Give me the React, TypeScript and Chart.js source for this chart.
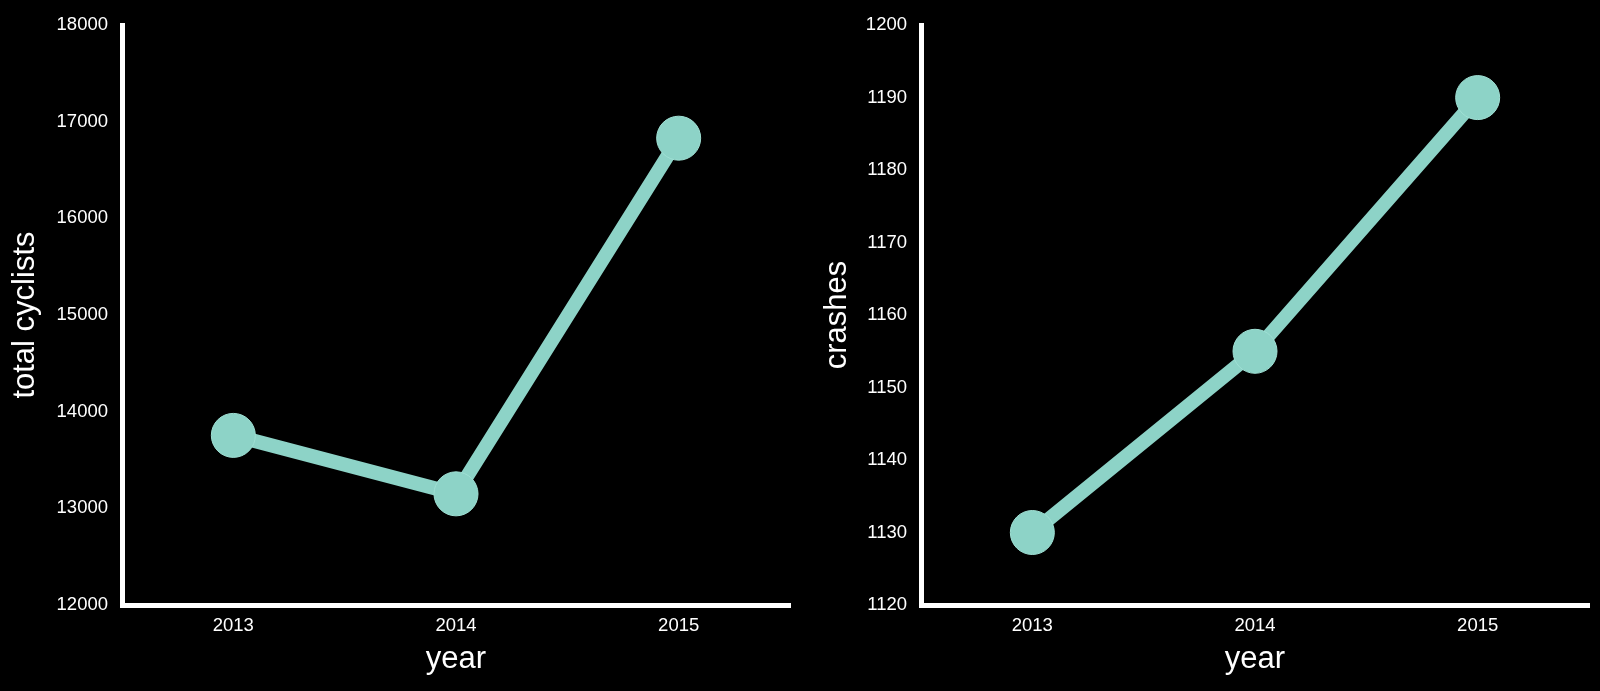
import React, { useEffect, useRef } from "react";
import { Chart, registerables } from "chart.js";

Chart.register(...registerables);

const years = ["2013", "2014", "2015"];
const totalCyclists = [13755, 13150, 16830];
const crashes = [1130, 1155, 1190];

const cyclistTicks = { min: 12000, max: 18000, step: 1000 };
const crashTicks = { min: 1120, max: 1200, step: 10 };

const FONT = "'Liberation Sans', Arial, Helvetica, sans-serif";
const LINE_COLOR = "#8dd3c7";

function makeConfig(values: number[], yLabel: string, range: { min: number; max: number; step: number }, titlePad: number) {
  return {
    type: "line" as const,
    data: {
      labels: years,
      datasets: [
        {
          data: values,
          borderColor: LINE_COLOR,
          backgroundColor: LINE_COLOR,
          borderWidth: 14,
          pointRadius: 22,
          pointBorderWidth: 1,
          pointBorderColor: "#9fe0d4",
          pointBackgroundColor: LINE_COLOR,
          tension: 0,
          clip: false,
        },
      ],
    },
    options: {
      animation: false as const,
      responsive: false,
      devicePixelRatio: 1,
      layout: { autoPadding: false, padding: { top: 20, right: 10, left: 0, bottom: 0 } },
      plugins: { legend: { display: false }, tooltip: { enabled: false } },
      scales: {
        x: {
          type: "category" as const,
          offset: true,
          grid: { display: false, drawTicks: false },
          border: { display: true, color: "#ffffff", width: 5 },
          ticks: { color: "#ffffff", font: { family: FONT, size: 18.5 }, padding: 10 },
          title: {
            display: true,
            text: "year",
            color: "#ffffff",
            font: { family: FONT, size: 31 },
            padding: { top: 0, bottom: 13 },
          },
          afterFit: (scale: any) => {
            scale.height = 86;
          },
        },
        y: {
          type: "linear" as const,
          min: range.min,
          max: range.max,
          grid: { display: false, drawTicks: false },
          border: { display: true, color: "#ffffff", width: 5 },
          ticks: {
            stepSize: range.step,
            color: "#ffffff",
            font: { family: FONT, size: 18.5 },
            padding: 14,
            callback: (v: any) => String(v),
          },
          title: {
            display: true,
            text: yLabel,
            color: "#ffffff",
            font: { family: FONT, size: 31 },
            padding: { top: titlePad, bottom: 0 },
          },
          afterFit: (scale: any) => {
            scale.width = 122;
          },
        },
      },
    },
  };
}

function Panel({ left, values, yLabel, range, titlePad }: any) {
  const ref = useRef<HTMLCanvasElement | null>(null);
  useEffect(() => {
    if (!ref.current) return;
    const chart = new Chart(ref.current, makeConfig(values, yLabel, range, titlePad) as any);
    return () => chart.destroy();
  }, []);
  return (
    <canvas
      ref={ref}
      width={800}
      height={691}
      style={{ position: "absolute", left, top: 0, width: 800, height: 691 }}
    />
  );
}

export default function App() {
  useEffect(() => {
    document.body.style.margin = "0";
    document.body.style.background = "#000";
  }, []);
  return (
    <div style={{ position: "absolute", left: 0, top: 0, width: 1600, height: 691, background: "#000", overflow: "hidden" }}>
      <Panel left={0} values={totalCyclists} yLabel="total cyclists" range={cyclistTicks} titlePad={7} />
      <Panel left={799} values={crashes} yLabel="crashes" range={crashTicks} titlePad={20} />
    </div>
  );
}
